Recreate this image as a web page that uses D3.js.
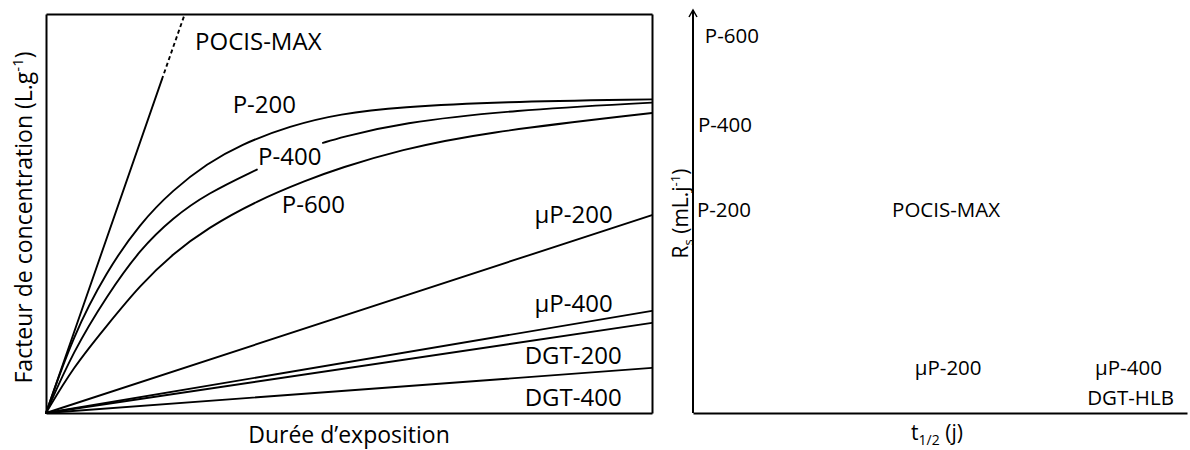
<!DOCTYPE html>
<html>
<head>
<meta charset="utf-8">
<script src="https://cdn.jsdelivr.net/npm/d3@7"></script>
<style>
  html, body { margin: 0; padding: 0; background: #fff; }
  svg { display: block; font-family: "Open Sans", "Noto Sans", sans-serif; }
</style>
</head>
<body>
<svg id="chart" width="1190" height="450"></svg>
<script>
// ---------- Left panel data (exposure time vs concentration factor, relative units 0-100) ----------
const pocisSolidX = [0, 19.1];
const pocisSolidY = [0, 83.5];
const pocisDashX  = [19.1, 22.9];
const pocisDashY  = [83.5, 100];

const p200X = [0, 4.5, 10, 15.5, 21, 26.6, 32, 40.3, 48.5, 58.4, 74.9, 100];
const p200Y = [0, 19.5, 35.5, 47.5, 56.0, 62.5, 67.2, 72.0, 75.0, 76.7, 78.0, 78.6];

const p400X = [0, 4.5, 10.1, 15.5, 21, 26.6, 34.8, null, 45.7, 48.5, 58.4, 77.1, 100];
const p400Y = [0, 15.5, 29.5, 41.0, 49.0, 55.0, 61.0, null, 67.7, 69.0, 72.7, 75.9, 77.8];

const p600X = [0, 4.5, 10.1, 15.5, 21, 26.6, 34.8, 43.1, 48.5, 58.4, 71.6, 100];
const p600Y = [0, 11.5, 22.0, 32.0, 40.0, 46.3, 53.2, 58.4, 61.4, 65.9, 70.2, 75.2];

const linearNames = ["µP-200", "µP-400", "DGT-200", "DGT-400"];
const linearEndX  = [100, 100, 100, 100];
const linearEndY  = [49.6, 25.6, 22.6, 11.3];

// ---------- Right panel data (t1/2 vs Rs, qualitative positions 0-100) ----------
const rightNames = ["P-600", "P-400", "P-200", "POCIS-MAX", "µP-200", "µP-400", "DGT-HLB"];
const rightTHalf = [2.4, 1.0, 0.8, 40.3, 44.9, 81.4, 79.8];
const rightRs    = [91.8, 69.7, 48.6, 48.6, 9.4, 9.4, 2.0];

// ---------- Drawing ----------
const svg = d3.select("#chart");
const ink = "#000";

// Left scales
const xL = d3.scaleLinear().domain([0, 100]).range([46, 652]);
const yL = d3.scaleLinear().domain([0, 100]).range([413, 14]);

const zipPts = (xs, ys) => xs.map((x, i) => (x === null ? null : [x, ys[i]]));
const lineL = d3.line()
  .defined(d => d !== null)
  .x(d => xL(d[0])).y(d => yL(d[1]))
  .curve(d3.curveBasis);
const straight = d3.line().x(d => xL(d[0])).y(d => yL(d[1]));

const gL = svg.append("g");

// frame using axes
const frame = [
  d3.axisBottom(xL).ticks(0).tickSize(0).tickSizeOuter(0),
  d3.axisLeft(yL).ticks(0).tickSize(0).tickSizeOuter(0),
  d3.axisTop(xL).ticks(0).tickSize(0).tickSizeOuter(0),
  d3.axisRight(yL).ticks(0).tickSize(0).tickSizeOuter(0)
];
const frameT = ["translate(0,413)", "translate(46,0)", "translate(0,14)", "translate(652,0)"];
frame.forEach((ax, i) => {
  const g = gL.append("g").attr("transform", frameT[i]).call(ax);
  g.selectAll("text").remove();
  g.select(".domain").attr("stroke", ink).attr("stroke-width", 2);
});

// curves
const curveStyle = sel => sel.attr("fill", "none").attr("stroke", ink).attr("stroke-width", 1.9)
  .attr("stroke-linejoin", "round").attr("stroke-linecap", "round");

gL.append("path").datum(zipPts(pocisSolidX, pocisSolidY)).attr("d", straight).call(curveStyle);
gL.append("path").datum(zipPts(pocisDashX, pocisDashY)).attr("d", straight).call(curveStyle)
  .attr("stroke-dasharray", "4,3").attr("stroke-linecap", "butt");

[[p200X, p200Y], [p400X, p400Y], [p600X, p600Y]].forEach(([xs, ys]) => {
  gL.append("path").datum(zipPts(xs, ys)).attr("d", lineL).call(curveStyle);
});

linearNames.forEach((n, i) => {
  gL.append("path").datum([[0, 0], [linearEndX[i], linearEndY[i]]]).attr("d", straight).call(curveStyle);
});

// left labels (annotation placement in data units)
const leftLabels = [
  { t: "POCIS-MAX", x: 24.6, y: 91.0, a: "start" },
  { t: "P-200",     x: 30.8, y: 75.2, a: "start" },
  { t: "P-400",     x: 35.0, y: 62.2, a: "start" },
  { t: "P-600",     x: 38.9, y: 50.1, a: "start" },
  { t: linearNames[0], x: 93.5, y: 47.6, a: "end" },
  { t: linearNames[1], x: 93.5, y: 25.3, a: "end" },
  { t: linearNames[2], x: 95.0, y: 12.3, a: "end" },
  { t: linearNames[3], x: 95.0, y: 1.75, a: "end" }
];
gL.selectAll("text.lbl").data(leftLabels).join("text")
  .attr("class", "lbl")
  .attr("x", d => xL(d.x)).attr("y", d => yL(d.y))
  .attr("text-anchor", d => d.a)
  .attr("font-size", 24).attr("fill", ink)
  .text(d => d.t);

// left axis titles
gL.append("text")
  .attr("x", (xL(0) + xL(100)) / 2).attr("y", 443)
  .attr("text-anchor", "middle").attr("font-size", 23).attr("fill", ink)
  .text("Durée d’exposition");

const yt = gL.append("text")
  .attr("transform", `translate(32,${(yL(0) + yL(100)) / 2 + 4}) rotate(-90)`)
  .attr("text-anchor", "middle").attr("font-size", 23).attr("fill", ink);
yt.append("tspan").text("Facteur de concentration (L.g");
yt.append("tspan").attr("font-size", 15).attr("dy", -9).text("-1");
yt.append("tspan").attr("dy", 9).text(")");

// Right scales
const xR = d3.scaleLinear().domain([0, 100]).range([693, 1187]);
const yR = d3.scaleLinear().domain([0, 100]).range([413, 10]);
const gR = svg.append("g");

svg.append("defs").append("marker")
  .attr("id", "arr").attr("viewBox", "-9 -6 12 12").attr("refX", 0).attr("refY", 0)
  .attr("markerWidth", 12).attr("markerHeight", 12).attr("markerUnits", "userSpaceOnUse")
  .attr("orient", "auto")
  .append("path").attr("d", "M-7,-4 L0,0 L-7,4").attr("fill", "none").attr("stroke", ink).attr("stroke-width", 1.5);

const axR_x = gR.append("g").attr("transform", "translate(0,413)")
  .call(d3.axisBottom(xR).ticks(0).tickSize(0).tickSizeOuter(0));
axR_x.selectAll("text").remove();
axR_x.select(".domain").attr("stroke", ink).attr("stroke-width", 2);

const axR_y = gR.append("g").attr("transform", "translate(693,0)")
  .call(d3.axisLeft(yR).ticks(0).tickSize(0).tickSizeOuter(0));
axR_y.selectAll("text").remove();
axR_y.select(".domain").attr("stroke", ink).attr("stroke-width", 2).attr("d", `M0,${yR(0)}V${yR(100)}`)
  .attr("marker-end", "url(#arr)");

gR.selectAll("text.pt").data(rightNames).join("text")
  .attr("class", "pt")
  .attr("x", (d, i) => xR(rightTHalf[i])).attr("y", (d, i) => yR(rightRs[i]))
  .attr("font-size", 20.5).attr("fill", ink)
  .text(d => d);

// right axis titles
const xt = gR.append("text")
  .attr("x", (xR(0) + xR(100)) / 2 - 3).attr("y", 440)
  .attr("text-anchor", "middle").attr("font-size", 21).attr("fill", ink);
xt.append("tspan").text("t");
xt.append("tspan").attr("font-size", 14).attr("dy", 5).text("1/2");
xt.append("tspan").attr("dy", -5).text(" (j)");

const rt = gR.append("text")
  .attr("transform", `translate(688,${(yR(0) + yR(100)) / 2 + 2}) rotate(-90)`)
  .attr("text-anchor", "middle").attr("font-size", 21).attr("fill", ink);
rt.append("tspan").text("R");
rt.append("tspan").attr("font-size", 13).attr("dy", 5).text("s");
rt.append("tspan").attr("dy", -5).text(" (mL.j");
rt.append("tspan").attr("font-size", 13).attr("dy", -8).text("-1");
rt.append("tspan").attr("dy", 8).text(")");
</script>
</body>
</html>
